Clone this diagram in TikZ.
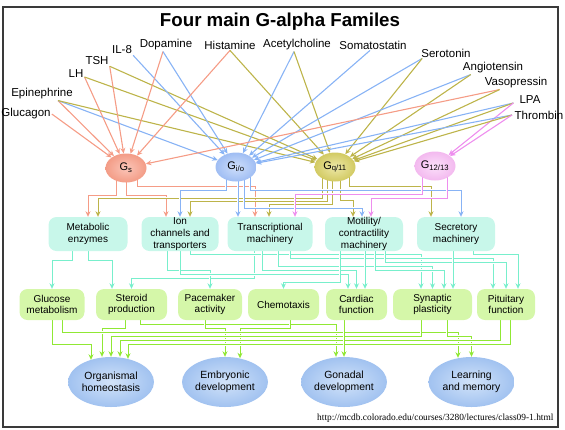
\documentclass[tikz,border=0pt]{standalone}
\usepackage{fontspec}
\setmainfont{Liberation Sans}
\newfontfamily\urlfont{Liberation Serif}
\usepackage{tikz}
\usetikzlibrary{arrows.meta,shapes.geometric,backgrounds}
\usepackage{xcolor}
\definecolor{redline}{HTML}{F59C86}
\definecolor{blueline}{HTML}{88B3F5}
\definecolor{oliveline}{HTML}{BDB44A}
\definecolor{pinkline}{HTML}{EE8EEE}
\definecolor{tealline}{HTML}{78EFCC}
\definecolor{greenline}{HTML}{90E834}
\definecolor{gsin}{HTML}{FBC5B8}
\definecolor{gsout}{HTML}{F39C86}
\definecolor{gioin}{HTML}{CFDFFB}
\definecolor{gioout}{HTML}{9FBDF3}
\definecolor{gqin}{HTML}{EDE8A8}
\definecolor{gqout}{HTML}{D2CA62}
\definecolor{gtwin}{HTML}{FBE0FA}
\definecolor{gtwout}{HTML}{F3B9EF}
\definecolor{mechfill}{HTML}{C8F7EA}
\definecolor{funcfill}{HTML}{D5F7A9}
\definecolor{outin}{HTML}{D2E3F9}
\definecolor{outout}{HTML}{A1C2F0}
\definecolor{framegray}{HTML}{3A3A3A}

\begin{document}
\begin{tikzpicture}[
  x=1pt, y=-1pt,
  font=\fontsize{11.5}{13}\selectfont,
  >={Stealth[length=5.5pt,width=5pt]},
  ligand/.style={inner sep=1pt},
  gprot/.style={
    ellipse,
    shade,
    minimum width=41pt,
    minimum height=29pt,
    inner sep=0pt,
    font=\fontsize{11}{12}\selectfont
  },
  mechbox/.style={
    fill=mechfill,
    rounded corners=8pt,
    minimum width=78pt,
    minimum height=34pt,
    inner sep=0pt,
    align=center,
    font=\fontsize{10}{11.6}\selectfont
  },
  funcbox/.style={
    fill=funcfill,
    rounded corners=8pt,
    minimum height=31pt,
    inner sep=0pt,
    align=center,
    font=\fontsize{10}{11.4}\selectfont
  },
  outcome/.style={
    ellipse,
    shade,
    inner color=outin,
    outer color=outout,
    minimum width=86pt,
    minimum height=50pt,
    inner sep=0pt,
    align=center,
    font=\fontsize{10.4}{12.3}\selectfont
  },
  bind/.style={->, line width=1.1pt},
  wire/.style={->, line width=1pt, preaction={draw=white, line width=2.9pt, -}}
]

  \useasboundingbox (0,0) rectangle (565,429);
  \draw[framegray, line width=1.2pt] (3,7) rectangle (558,427);

  % Title
  \node[font=\bfseries\fontsize{18.7}{20}\selectfont] (title) at (280,22) {Four main G-alpha Familes};

  % Ligands
  \node[ligand] (glucagon) at (26,114) {Glucagon};
  \node[ligand] (epi) at (42,94) {Epinephrine};
  \node[ligand] (lh) at (76,74) {LH};
  \node[ligand] (tsh) at (97,61) {TSH};
  \node[ligand] (il8) at (122,50) {IL-8};
  \node[ligand] (dopa) at (166,45) {Dopamine};
  \node[ligand] (hist) at (230,45) {Histamine};
  \node[ligand] (ach) at (297,45) {Acetylcholine};
  \node[ligand] (soma) at (373,45) {Somatostatin};
  \node[ligand] (sero) at (446,53) {Serotonin};
  \node[ligand] (angio) at (493,68) {Angiotensin};
  \node[ligand] (vaso) at (516,83) {Vasopressin};
  \node[ligand] (lpa) at (530,100) {LPA};
  \node[ligand, anchor=west, inner sep=0.5pt] (thromb) at (514,115) {Thrombin};

  % G-alpha families
  \node[gprot, inner color=gsin, outer color=gsout] (gs) at (126,168) {G\textsubscript{s}};
  \node[gprot, inner color=gioin, outer color=gioout] (gio) at (236,167) {G\textsubscript{i/o}};
  \node[gprot, inner color=gqin, outer color=gqout] (gq) at (335,167) {G\textsubscript{q/11}};
  \node[gprot, inner color=gtwin, outer color=gtwout] (g12) at (435,166) {G\textsubscript{12/13}};

  % Effector machinery
  \node[mechbox, minimum width=79pt] (metab) at (88,234) {Metabolic\\enzymes};
  \node[mechbox, minimum width=77pt] (ionch) at (180,234) {Ion\\channels and\\transporters};
  \node[mechbox, minimum width=85pt] (transc) at (270,234) {Transcriptional\\machinery};
  \node[mechbox] (motil) at (364,234) {Motility/\\contractility\\machinery};
  \node[mechbox] (secr) at (456,234) {Secretory\\machinery};

  % Cell functions
  \node[funcbox, minimum width=65pt] (glucose) at (52,304.5) {Glucose\\metabolism};
  \node[funcbox, minimum width=71pt] (steroid) at (131.5,304.5) {Steroid\\production};
  \node[funcbox, minimum width=64pt] (pacem) at (210,304.5) {Pacemaker\\activity};
  \node[funcbox, minimum width=71pt] (chemo) at (283.5,304.5) {Chemotaxis};
  \node[funcbox, minimum width=61pt] (cardiac) at (356.5,304.5) {Cardiac\\function};
  \node[funcbox, minimum width=79pt] (synap) at (432.5,304.5) {Synaptic\\plasticity};
  \node[funcbox, minimum width=58pt] (pitu) at (506,304.5) {Pituitary\\function};

  % Physiological outcomes
  \node[outcome] (organ) at (111,382) {Organismal\\homeostasis};
  \node[outcome] (embryo) at (225,382) {Embryonic\\development};
  \node[outcome] (gonad) at (344,382) {Gonadal\\development};
  \node[outcome] (learn) at (471.5,382) {Learning\\and memory};

  \node[anchor=east, font=\urlfont\fontsize{9.4}{10}\selectfont] (url) at (557,418) {http://mcdb.colorado.edu/courses/3280/lectures/class09-1.html};

  % Ligand to G-alpha arrows
  \draw[bind, draw=redline] (glucagon.east) -- (gs);
  \draw[bind, draw=redline] ([xshift=16pt]epi.south) -- (gs);
  \draw[bind, draw=blueline] ([xshift=16pt]epi.south) -- (gio);
  \draw[bind, draw=oliveline] ([xshift=16pt]epi.south) -- (gq);
  \draw[bind, draw=redline] ([yshift=-3pt]lh.east) -- (gs);
  \draw[bind, draw=oliveline] ([yshift=-3pt]lh.east) -- (gq);
  \draw[bind, draw=redline] (tsh.south east) -- (gs);
  \draw[bind, draw=oliveline] (tsh.south east) -- (gq);
  \draw[bind, draw=blueline] (il8.south east) -- (gio);
  \draw[bind, draw=redline] ([xshift=-3pt]dopa.south) -- (gs);
  \draw[bind, draw=blueline] ([xshift=-3pt]dopa.south) -- (gio);
  \draw[bind, draw=redline] (hist.south) -- (gs);
  \draw[bind, draw=oliveline] (hist.south) -- (gq);
  \draw[bind, draw=blueline] ([xshift=-3pt]ach.south) -- (gio);
  \draw[bind, draw=oliveline] ([xshift=-3pt]ach.south) -- (gq);
  \draw[bind, draw=blueline] ([xshift=-3pt]soma.south) -- (gio);
  \draw[bind, draw=blueline] ([xshift=2pt]sero.south west) -- (gio);
  \draw[bind, draw=oliveline] ([xshift=2pt]sero.south west) -- (gq);
  \draw[bind, draw=blueline] ([xshift=9pt]angio.south west) -- (gio);
  \draw[bind, draw=oliveline] ([xshift=9pt]angio.south west) -- (gq);
  \draw[bind, draw=redline] ([xshift=16pt]vaso.south west) -- (gs);
  \draw[bind, draw=oliveline] ([xshift=16pt]vaso.south west) -- (gq);
  \draw[bind, draw=blueline] ([xshift=-5pt,yshift=-3pt]lpa.west) -- (gio);
  \draw[bind, draw=oliveline] ([xshift=-5pt,yshift=-3pt]lpa.west) -- (gq);
  \draw[bind, draw=pinkline] ([xshift=-5pt,yshift=-3pt]lpa.west) -- (g12);
  \draw[bind, draw=blueline] ([xshift=-2pt]thromb.west) -- (gio);
  \draw[bind, draw=oliveline] ([xshift=-2pt]thromb.west) -- (gq);
  \draw[bind, draw=pinkline] ([xshift=-2pt]thromb.west) -- (g12);

  \begin{scope}[on background layer]
    % G-alpha to effector machinery
    \draw[wire, draw=redline] ([xshift=-10pt]gs.center) -- ++(0,27) -| (metab.north);
    \draw[wire, draw=redline] (gs.center) -- ++(0,27) -| ([xshift=-14pt]ionch.north);
    \draw[wire, draw=redline] ([xshift=11pt]gs.center) -- ++(0,18) -| ([xshift=-15pt]transc.north);
    \draw[wire, draw=oliveline] ([xshift=-13pt]gq.center) -- ++(0,31) -| ([xshift=10pt]metab.north);
    \draw[wire, draw=oliveline] ([xshift=-8pt]gq.center) -- ++(0,34) -| ([xshift=10pt]ionch.north);
    \draw[wire, draw=oliveline] ([xshift=-3pt]gq.center) -- ++(0,37) -| ([xshift=-1pt]transc.north);
    \draw[wire, draw=oliveline] ([xshift=5pt]gq.center) -- ++(0,33) -| ([xshift=-11pt]motil.north);
    \draw[wire, draw=oliveline] ([xshift=14pt]gq.center) -- ++(0,19) -| ([xshift=-25pt]secr.north);
    \draw[wire, draw=blueline] ([xshift=-10pt]gio.center) -- ++(0,23) -| (ionch.north);
    \draw[wire, draw=blueline] ([xshift=2pt]gio.center) -- ([xshift=-32pt]transc.north);
    \draw[wire, draw=blueline] ([xshift=8pt]gio.center) -- ++(0,41) -| ([xshift=-2pt]motil.north);
    \draw[wire, draw=blueline] ([xshift=14pt]gio.center) -- ++(0,23) -| ([xshift=5pt]secr.north);
    \draw[wire, draw=pinkline] ([xshift=-13pt]g12.center) -- ++(0,28) -| ([xshift=25pt]transc.north);
    \draw[wire, draw=pinkline] ([xshift=12pt]g12.center) -- ++(0,32) -| ([xshift=7pt]motil.north);

    % Effector machinery to cell functions
    \draw[wire, draw=tealline] ([xshift=-16pt]metab.south) -- ++(0,9) -| (glucose.north);
    \draw[wire, draw=tealline] (metab.south) -- ++(0,9) -| ([xshift=-19.5pt]steroid.north);
    \draw[wire, draw=tealline] ([xshift=-16pt]transc.south) -- ++(0,27) -| (steroid.north);
    \draw[wire, draw=tealline] ([xshift=-13pt]ionch.south) -- ++(0,19) -| (pacem.north);
    \draw[wire, draw=tealline] (ionch.south) -- ++(0,23) -| ([xshift=-8.5pt]cardiac.north);
    \draw[wire, draw=tealline] ([xshift=10pt]ionch.south) -- ++(0,3) -| ([xshift=-11.5pt]synap.north);
    \draw[wire, draw=tealline] ([xshift=-8pt]transc.south) -- ++(0,19) -| (cardiac.north);
    \draw[wire, draw=tealline] ([xshift=8pt]transc.south) -- ++(0,15) -| (synap.north);
    \draw[wire, draw=tealline] ([xshift=20pt]transc.south) -- ++(0,7) -| ([xshift=-13pt]pitu.north);
    \draw[wire, draw=tealline] ([xshift=-24pt]motil.south) -- ++(0,31) -| (chemo.north);
    \draw[wire, draw=tealline] ([xshift=1pt]motil.south) -- ([xshift=8.5pt]cardiac.north);
    \draw[wire, draw=tealline] ([xshift=11pt]motil.south) -- ++(0,19) -| ([xshift=11.5pt]synap.north);
    \draw[wire, draw=tealline] ([xshift=21pt]motil.south) -- ++(0,11) -| (pitu.north);
    \draw[wire, draw=tealline] ([xshift=-3pt]secr.south) -- ([xshift=20.5pt]synap.north);
    \draw[wire, draw=tealline] ([xshift=17pt]secr.south) -- ++(0,3) -| ([xshift=12pt]pitu.north);

    % Cell functions to physiological outcomes
    \draw[wire, draw=greenline] (glucose.south) -- ++(0,24) -| ([xshift=-20pt,yshift=-3pt]organ.north);
    \draw[wire, draw=greenline] ([xshift=-6.5pt]steroid.south) -- ++(0,8) -| ([xshift=-9pt]organ.north);
    \draw[wire, draw=greenline] ([xshift=8.5pt]steroid.south) -- ++(0,4) -| ([xshift=-8pt]gonad.north);
    \draw[wire, draw=greenline] ([xshift=-5pt]pacem.south) -- ++(0,8) -| (embryo.north);
    \draw[wire, draw=greenline] ([xshift=6.5pt]chemo.south) -- ++(0,8) -| ([xshift=15pt,yshift=-1.5pt]embryo.north);
    \draw[wire, draw=greenline] ([xshift=10pt]glucose.south) -- ++(0,12) -| ([xshift=-13.5pt,yshift=-1pt]learn.north);
    \draw[wire, draw=greenline] ([xshift=-11.5pt]synap.south) -- ++(0,16) -| (organ.north);
    \draw[wire, draw=greenline] ([xshift=14.5pt]synap.south) -- ++(0,16) -| (learn.north);
    \draw[wire, draw=greenline] ([xshift=-6pt]pitu.south) -- ++(0,20) -| ([xshift=9pt]organ.north);
    \draw[wire, draw=greenline] ([xshift=4pt]pitu.south) -- ++(0,24) -| ([xshift=17pt,yshift=-2pt]organ.north);
    \draw[wire, draw=greenline] ([xshift=-12.5pt]cardiac.south) -- (gonad.north);
  \end{scope}

\end{tikzpicture}
\end{document}
